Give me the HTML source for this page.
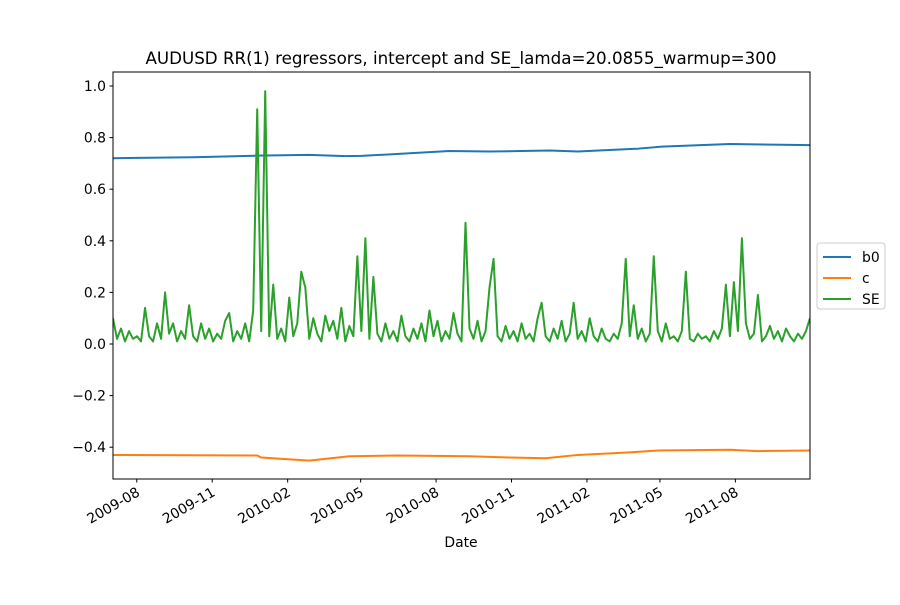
<!DOCTYPE html>
<html><head><meta charset="utf-8"><style>
body{margin:0;background:#fff}
svg text{font-family:"DejaVu Sans","Liberation Sans",sans-serif;fill:#000}
</style></head><body>
<svg id="c" width="900" height="600"></svg>
<script>
const seriesNames=["b0","c","SE"];
const startDate="2009-07-03", endDate="2011-10-31";
const xTickLabels=["2009-08","2009-11","2010-02","2010-05","2010-08","2010-11","2011-02","2011-05","2011-08"];
const yTickValues=[-0.4,-0.2,0.0,0.2,0.4,0.6,0.8,1.0];
const seValues=[.10,.02,.06,.01,.05,.02,.03,.01,.14,.03,
.01,.08,.02,.20,.04,.08,.01,.05,.02,.15,
.03,.01,.08,.02,.06,.01,.04,.02,.09,.12,
.01,.05,.02,.08,.01,.13,.91,.05,.98,.03,
.23,.02,.06,.01,.18,.03,.08,.28,.22,.02,
.10,.04,.01,.11,.05,.09,.02,.14,.01,.07,
.03,.34,.05,.41,.02,.26,.04,.01,.08,.02,
.05,.01,.11,.03,.01,.06,.02,.08,.01,.13,
.03,.09,.01,.05,.02,.12,.04,.01,.47,.06,
.02,.09,.01,.05,.22,.33,.03,.01,.07,.02,
.05,.01,.08,.02,.04,.01,.10,.16,.03,.01,
.06,.02,.09,.01,.04,.16,.02,.05,.01,.10,
.03,.01,.06,.02,.01,.04,.02,.08,.33,.03,
.15,.02,.06,.01,.04,.34,.05,.01,.08,.02,
.03,.01,.05,.28,.02,.01,.04,.02,.03,.01,
.05,.02,.06,.23,.03,.24,.05,.41,.08,.02,
.04,.19,.01,.03,.07,.02,.05,.01,.06,.03,
.01,.04,.02,.05,.10];
const b0Index=[0,20,36,49,58,62,84,94,109,116,131,137,154,174];
const b0Values=[0.72,0.724,0.73,0.733,0.728,0.729,0.748,0.746,0.75,0.746,0.757,0.765,0.775,0.771];
const cIndex=[0,36,37,49,59,71,89,99,108,116,129,136,154,161,174];
const cValues=[-0.43,-0.432,-0.44,-0.452,-0.435,-0.432,-0.435,-0.44,-0.443,-0.43,-0.42,-0.413,-0.41,-0.415,-0.413];

const NS="http://www.w3.org/2000/svg";
const svg=document.getElementById('c');
const L=113,R=810,T=72,B=479;
const t0=Date.parse(startDate), t1=Date.parse(endDate);
const n=seValues.length;
function xDate(s){return L+(Date.parse(s+"-01")-t0)/(t1-t0)*(R-L);}
function xIdx(i){return L+i/(n-1)*(R-L);}
function y(v){return 344-v*258;}
function mk(tag,attrs,parent){const e=document.createElementNS(NS,tag);for(const k in attrs)e.setAttribute(k,attrs[k]);(parent||svg).appendChild(e);return e;}

const title=mk('text',{x:461,y:64,'text-anchor':'middle','font-size':'16.7'});
title.textContent="AUDUSD RR(1) regressors, intercept and SE_lamda=20.0855_warmup=300";



const clip=mk('clipPath',{id:'cp'});mk('rect',{x:L,y:T,width:R-L,height:B-T},clip);
const g=mk('g',{'clip-path':'url(#cp)'});
function line(xs,ys,color,name){
  const d=xs.map((x,i)=>(i?'L':'M')+xIdx(x).toFixed(2)+','+y(ys[i]).toFixed(2)).join('');
  const p=mk('path',{d:d,fill:'none',stroke:color,'stroke-width':2,'stroke-linejoin':'round'},g);
  
  
}
line(b0Index,b0Values,'#1f77b4','b0-line');
line(cIndex,cValues,'#ff7f0e','c-line');
line(seValues.map((v,i)=>i),seValues,'#2ca02c','se-line');

mk('rect',{x:L,y:T,width:R-L,height:B-T,fill:'none',stroke:'#000','stroke-width':1});

yTickValues.forEach(v=>{
  const yy=y(v);
  mk('line',{x1:L-3.5,x2:L,y1:yy,y2:yy,stroke:'#000'});
  const t=mk('text',{x:L-7,y:yy+5,'text-anchor':'end','font-size':'13.9'});
  t.textContent=(v<0?'\u2212':'')+Math.abs(v).toFixed(1);
  
  
});
xTickLabels.forEach(s=>{
  const xx=xDate(s);
  mk('line',{x1:xx,x2:xx,y1:B,y2:B+3.5,stroke:'#000'});
  const t=mk('text',{x:xx+4,y:B+16,'text-anchor':'end','font-size':'13.9',transform:`rotate(-30 ${xx+4} ${B+16})`});
  t.textContent=s;
  
  
});
const xl=mk('text',{x:461,y:547,'text-anchor':'middle','font-size':'13.9'});xl.textContent="Date";



const lg=mk('g',{});


mk('rect',{x:817,y:243,width:68,height:66,rx:3,fill:'#fff',stroke:'#ccc'},lg);
const colors=['#1f77b4','#ff7f0e','#2ca02c'];
seriesNames.forEach((s,i)=>{
  const yy=257+i*21;
  mk('line',{x1:823,x2:851,y1:yy,y2:yy,stroke:colors[i],'stroke-width':2},lg);
  const t=mk('text',{x:862,y:yy+5,'font-size':'13.9'},lg);t.textContent=s;
  
  
});
</script>
</body></html>
